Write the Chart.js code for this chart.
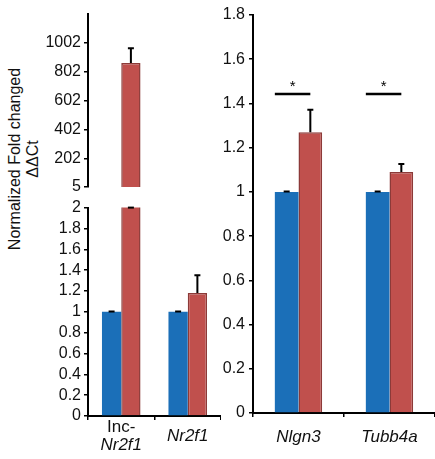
<!DOCTYPE html>
<html><head><meta charset="utf-8">
<script src="https://cdn.jsdelivr.net/npm/chart.js@4"></script>
<style>
html,body{margin:0;padding:0;background:#fff;}
#wrap{position:relative;width:435px;height:459px;overflow:hidden;font-family:"Liberation Sans",Arial,sans-serif;}
canvas{position:absolute;}
#ytitle{position:absolute;left:24px;top:159px;transform:translate(-50%,-50%) rotate(-90deg);font-size:16px;line-height:18px;text-align:center;white-space:nowrap;color:#111;}
</style></head><body>
<div id="wrap">
<div id="ytitle">Normalized Fold changed<br>ΔΔCt</div>
<canvas id="cTop" style="left:0;top:0;width:221px;height:200px" width="221" height="200"></canvas>
<canvas id="cLow" style="left:0;top:195px;width:221px;height:264px" width="221" height="264"></canvas>
<canvas id="cRight" style="left:200px;top:0;width:235px;height:459px" width="235" height="459"></canvas>
</div>
<script>
// ---- data ----
const leftCategories = ['Inc-Nr2f1', 'Nr2f1'];
const leftTickLabels = [['Inc-', 'Nr2f1'], ['Nr2f1']];
const leftControl = [1.0, 1.0];
const leftControlErr = [1.003, 1.003];
const leftTreated = [862, 1.18];
const leftTreatedErr = [963, 1.35];
const topTicks = [5, 202, 402, 602, 802, 1002];
const topMin = 5, topMax = 1200;
const lowMin = 0, lowMax = 2, lowStep = 0.2;

const rightCategories = ['Nlgn3', 'Tubb4a'];
const rightControl = [1.0, 1.0];
const rightControlErr = [1.002, 1.002];
const rightTreated = [1.27, 1.09];
const rightTreatedErr = [1.372, 1.126];
const rightSig = [1.443, 1.443];
const rightMin = 0, rightMax = 1.8, rightStep = 0.2;

// ---- styles ----
const BLUE = '#1b6fb8', RED = '#c0504d', RED_BORDER = '#8c3a38', INK = '#111';
Chart.defaults.font.family = '"Liberation Sans", Arial, sans-serif';
Chart.defaults.font.size = 16;
Chart.defaults.color = INK;
Chart.defaults.animation = false;

const fmt = v => String(Math.round(v * 10) / 10);

const errorBars = {
  id: 'errorBars',
  afterDatasetsDraw(chart) {
    const ctx = chart.ctx, y = chart.scales.y;
    ctx.save();
    ctx.strokeStyle = '#000'; ctx.lineWidth = 2;
    chart.data.datasets.forEach((ds, di) => {
      if (!ds.errHi) return;
      const meta = chart.getDatasetMeta(di);
      meta.data.forEach((bar, i) => {
        const v = ds.data[i], e = ds.errHi[i];
        if (v == null || e == null || v < y.min) return;
        const y0 = y.getPixelForValue(Math.min(v, y.max));
        const y1 = y.getPixelForValue(Math.min(e, y.max));
        ctx.beginPath();
        ctx.moveTo(bar.x, y0); ctx.lineTo(bar.x, y1);
        ctx.moveTo(bar.x - 3, y1); ctx.lineTo(bar.x + 3, y1);
        ctx.stroke();
      });
    });
    ctx.restore();
  }
};

function barDatasets(ctrl, ctrlErr, trt, trtErr, pct) {
  return [
    { data: ctrl, errHi: ctrlErr, backgroundColor: BLUE, borderWidth: 0,
      categoryPercentage: pct, barPercentage: 1 },
    { data: trt, errHi: trtErr, backgroundColor: RED, borderColor: RED_BORDER, borderWidth: 1.5,
      categoryPercentage: pct, barPercentage: 1 }
  ];
}

const yAxisCommon = (width) => ({
  border: { display: true, color: '#000', width: 2 },
  grid: { drawOnChartArea: false, drawTicks: true, tickLength: 4, color: '#000', lineWidth: 1.5 },
  afterFit: s => { s.width = width; }
});

// ---- top-left (broken axis upper part) ----
new Chart(document.getElementById('cTop'), {
  type: 'bar',
  data: {
    labels: leftCategories,
    datasets: barDatasets(
      leftControl.map(v => v >= topMin ? v : null), leftControlErr,
      leftTreated.map(v => v >= topMin ? v : null), leftTreatedErr, 0.58)
  },
  options: {
    responsive: false,
    layout: { padding: { top: 14, bottom: 13, left: 0, right: 0 } },
    plugins: { legend: { display: false }, tooltip: { enabled: false } },
    scales: {
      x: { display: false },
      y: Object.assign(yAxisCommon(88), {
        min: topMin, max: topMax,
        afterBuildTicks: s => { s.ticks = topTicks.map(v => ({ value: v })); },
        ticks: { padding: 3, color: INK, font: { size: 16 }, autoSkip: false, callback: v => String(v) }
      })
    }
  },
  plugins: [errorBars]
});

// ---- bottom-left (broken axis lower part) ----
const leftLabels = {
  id: 'leftLabels',
  afterDraw(chart) {
    const ctx = chart.ctx, x = chart.scales.x;
    ctx.save();
    ctx.fillStyle = INK; ctx.textAlign = 'center'; ctx.textBaseline = 'middle';
    leftTickLabels.forEach((lines, i) => {
      const cx = x.getPixelForValue(i);
      const cy = x.top + 20;
      lines.forEach((t, j) => {
        const italic = !t.endsWith('-');
        ctx.font = (italic ? 'italic ' : '') + '17px "Liberation Sans", Arial, sans-serif';
        ctx.fillText(t, cx, cy + (j - (lines.length - 1) / 2) * 18);
      });
    });
    ctx.restore();
  }
};
new Chart(document.getElementById('cLow'), {
  type: 'bar',
  data: {
    labels: leftCategories,
    datasets: barDatasets(leftControl, leftControlErr, leftTreated, leftTreatedErr, 0.58)
  },
  options: {
    responsive: false,
    layout: { padding: { top: 11, bottom: 0, left: 0, right: 0 } },
    plugins: { legend: { display: false }, tooltip: { enabled: false } },
    scales: {
      x: {
        border: { display: true, color: '#000', width: 2 },
        grid: { drawOnChartArea: false, drawTicks: true, tickLength: 4, color: '#000', lineWidth: 1.5 },
        ticks: { display: false },
        afterFit: s => { s.height = 43; }
      },
      y: Object.assign(yAxisCommon(88), {
        min: lowMin, max: lowMax,
        ticks: { padding: 3, color: INK, font: { size: 16 }, stepSize: lowStep, autoSkip: false, callback: fmt }
      })
    }
  },
  plugins: [errorBars, leftLabels]
});

// ---- right panel ----
const sigMarks = {
  id: 'sigMarks',
  afterDatasetsDraw(chart) {
    const ctx = chart.ctx, y = chart.scales.y;
    const m0 = chart.getDatasetMeta(0), m1 = chart.getDatasetMeta(1);
    ctx.save();
    ctx.strokeStyle = '#000'; ctx.fillStyle = '#000'; ctx.lineWidth = 2.5;
    rightSig.forEach((s, i) => {
      const b0 = m0.data[i], b1 = m1.data[i];
      const x0 = b0.x - b0.width / 2, x1 = b1.x;
      const yy = y.getPixelForValue(s);
      ctx.beginPath(); ctx.moveTo(x0, yy); ctx.lineTo(x1, yy); ctx.stroke();
      ctx.font = '15px "Liberation Sans", Arial, sans-serif';
      ctx.textAlign = 'center'; ctx.textBaseline = 'alphabetic';
      ctx.fillText('*', (x0 + x1) / 2, yy - 3);
    });
    ctx.restore();
  }
};
new Chart(document.getElementById('cRight'), {
  type: 'bar',
  data: {
    labels: rightCategories,
    datasets: barDatasets(rightControl, rightControlErr, rightTreated, rightTreatedErr, 0.52)
  },
  options: {
    responsive: false,
    layout: { padding: { top: 15, bottom: 0, left: 0, right: 0 } },
    plugins: { legend: { display: false }, tooltip: { enabled: false } },
    scales: {
      x: {
        border: { display: true, color: '#000', width: 2 },
        grid: { drawOnChartArea: false, drawTicks: true, tickLength: 4, color: '#000', lineWidth: 1.5 },
        ticks: { padding: 10, color: INK, font: { size: 17, style: 'italic' }, maxRotation: 0 },
        afterFit: s => { s.height = 46; }
      },
      y: Object.assign(yAxisCommon(53), {
        min: rightMin, max: rightMax,
        ticks: { padding: 4, color: INK, font: { size: 16 }, stepSize: rightStep, autoSkip: false, callback: fmt }
      })
    }
  },
  plugins: [errorBars, sigMarks]
});
</script>
</body></html>
